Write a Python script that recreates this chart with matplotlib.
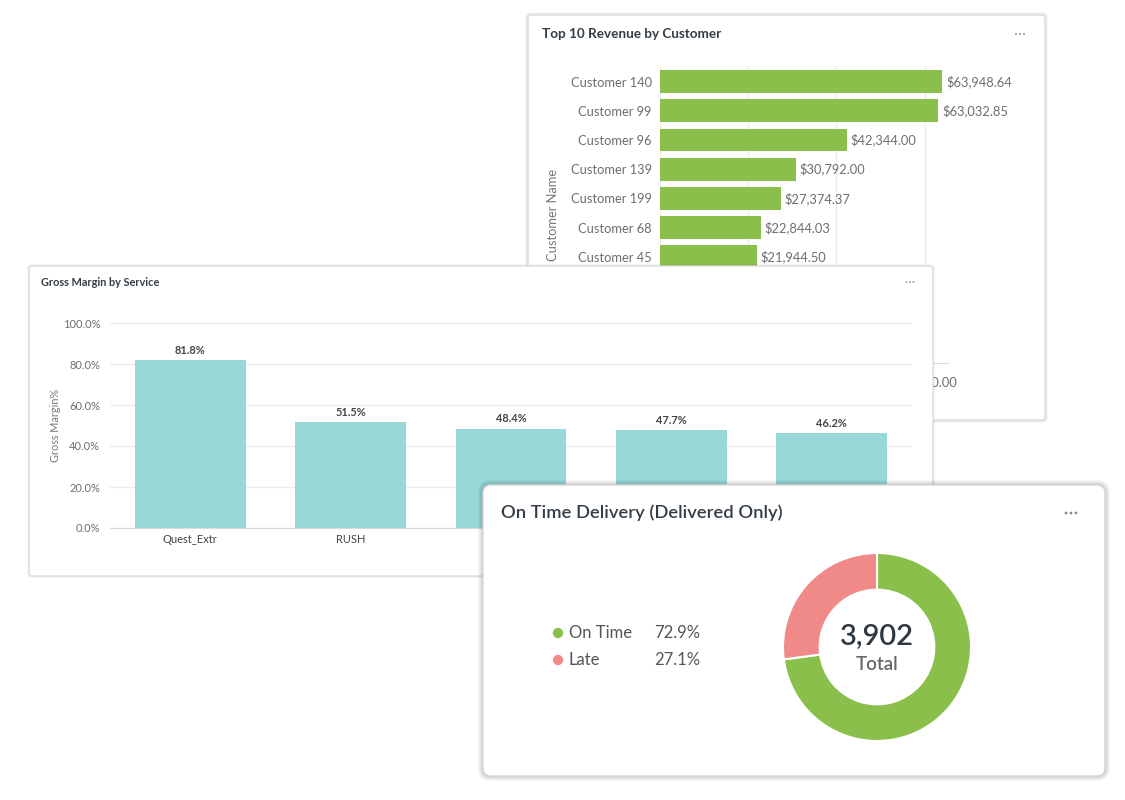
import matplotlib
matplotlib.use("Agg")
import matplotlib.pyplot as plt
from matplotlib.patches import FancyBboxPatch
from matplotlib.ticker import FuncFormatter

plt.rcParams["font.family"] = ["Lato", "DejaVu Sans"]

# ── Data ──
customers = ["Customer 140", "Customer 99", "Customer 96", "Customer 139", "Customer 199",
             "Customer 68", "Customer 45", "Customer 17", "Customer 52", "Customer 73"]
revenue = [63948.64, 63032.85, 42344.00, 30792.00, 27374.37,
           22844.03, 21944.50, 20510.00, 19875.25, 18640.00]
revenue_ticks = [0, 20000, 40000, 60000]

services = ["Quest_Extr", "RUSH", "Courier", "Standard", "Overnight"]
gross_margin = [81.8, 51.5, 48.4, 47.7, 46.2]
margin_ticks = [0, 20, 40, 60, 80, 100]

delivery_labels = ["On Time", "Late"]
delivery_share = [72.9, 27.1]
delivery_total = 3902

GREEN = "#8bbf4c"
PINK = "#ef8a88"
TEAL = "#98d9d8"
TITLE = "#343d46"
GREY = "#6e6e6e"
GRID = "#ececec"

W, H = 1125, 800
fig = plt.figure(figsize=(W / 100, H / 100), dpi=100)
fig.patch.set_facecolor("white")


def frac(x0, y0, x1, y1):
    return [x0 / W, 1 - y1 / H, (x1 - x0) / W, (y1 - y0) / H]


def card(x0, y0, x1, y1, z, radius=3, shadow=3, edge="#dcdcdc"):
    """White card drawn in pixel coordinates, returns the background axes."""
    m = 10
    ax = fig.add_axes(frac(x0 - m, y0 - m, x1 + m, y1 + m))
    ax.set_zorder(z)
    ax.set_xlim(-m, x1 - x0 + m)
    ax.set_ylim(y1 - y0 + m, -m)
    ax.axis("off")
    w, h = x1 - x0, y1 - y0
    for i in range(shadow, 0, -1):
        ax.add_patch(FancyBboxPatch((0, 0), w, h, boxstyle=f"round,pad={i},rounding_size={radius + i}",
                                    fc="#000000", ec="none", alpha=0.035))
    ax.add_patch(FancyBboxPatch((0, 0), w, h, boxstyle=f"round,pad=0,rounding_size={radius}",
                                fc="white", ec=edge, lw=1.0))
    return ax


def menu_dots(ax, x, y, gap, size, color):
    ax.scatter([x - gap, x, x + gap], [y, y, y], s=size, color=color, edgecolors="none")


# ── Card 1: Top 10 Revenue by Customer ──
bg1 = card(528, 15, 1045, 420, 1, shadow=3)
bg1.text(14, 19, "Top 10 Revenue by Customer", fontsize=9.7, fontweight="bold",
         color=TITLE, va="center", ha="left")
menu_dots(bg1, 492, 19, 4, 2.5, "#a0a0a0")

ax1 = fig.add_axes(frac(660, 67, 948, 363))
ax1.set_zorder(2)
ax1.patch.set_alpha(0)
ypos = list(range(len(customers)))
ax1.barh(ypos, revenue, height=0.78, color=GREEN, zorder=3)
ax1.set_ylim(len(customers) - 0.36, -0.5)
ax1.set_xlim(0, 65300)
ax1.set_yticks(ypos)
ax1.set_yticklabels(customers)
ax1.set_xticks(revenue_ticks)
ax1.xaxis.set_major_formatter(FuncFormatter(lambda v, _: f"${v:,.2f}"))
ax1.tick_params(axis="both", length=0, labelsize=9.3, labelcolor=GREY)
ax1.tick_params(axis="y", pad=6)
ax1.tick_params(axis="x", pad=9)
ax1.grid(axis="x", color=GRID, lw=1, zorder=0)
for s in ["top", "right", "left"]:
    ax1.spines[s].set_visible(False)
ax1.spines["bottom"].set_color("#dadada")
for y, v in zip(ypos, revenue):
    ax1.text(v + 900, y, f"${v:,.2f}", fontsize=9.3, color=GREY, va="center", ha="left")
ax1.set_ylabel("Customer Name", fontsize=9.3, color="#777777", labelpad=8)

# ── Card 2: Gross Margin by Service ──
bg2 = card(29, 266, 933, 576, 3, shadow=2)
bg2.text(12, 16, "Gross Margin by Service", fontsize=7.9, fontweight="bold",
         color=TITLE, va="center", ha="left")
menu_dots(bg2, 881, 16, 3.5, 2, "#a0a0a0")

ax2 = fig.add_axes(frac(110, 323, 912, 528))
ax2.set_zorder(4)
ax2.patch.set_alpha(0)
xpos = list(range(len(services)))
ax2.bar(xpos, gross_margin, width=0.69, color=TEAL, zorder=3)
ax2.set_xlim(-0.5, len(services) - 0.5)
ax2.set_ylim(0, 100)
ax2.set_yticks(margin_ticks)
ax2.yaxis.set_major_formatter(FuncFormatter(lambda v, _: f"{v:.1f}%"))
ax2.set_xticks(xpos)
ax2.set_xticklabels(services)
ax2.tick_params(axis="y", length=0, labelsize=8, labelcolor=GREY, pad=7)
ax2.tick_params(axis="x", length=0, labelsize=8, labelcolor="#444444", pad=4)
ax2.xaxis.get_major_ticks()[2].set_pad(20)
ax2.grid(axis="y", color=GRID, lw=1, zorder=0)
for s in ["top", "right", "left"]:
    ax2.spines[s].set_visible(False)
ax2.spines["bottom"].set_color("#dadada")
for x, v in zip(xpos, gross_margin):
    ax2.text(x, v + 2.2, f"{v:.1f}%", fontsize=7.9, fontweight="bold", color="#444444",
             ha="center", va="bottom")
ax2.set_ylabel("Gross Margin%", fontsize=7.8, color="#777777", labelpad=1)

# ── Card 3: On Time Delivery ──
bg3 = card(483, 485, 1105, 776, 5, radius=8, shadow=5, edge="#d6d6d6")
bg3.text(18, 28, "On Time Delivery (Delivered Only)", fontsize=13.2, fontweight="semibold",
         color=TITLE, va="center", ha="left")
menu_dots(bg3, 588, 28, 5, 4, "#8a8a8a")
for i, (lab, sh, col) in enumerate(zip(delivery_labels, delivery_share, [GREEN, PINK])):
    yy = 148 + i * 27
    bg3.scatter([75], [yy], s=55, color=col, edgecolors="none")
    bg3.text(86, yy, lab, fontsize=12, color="#555555", va="center", ha="left")
    bg3.text(171, yy, f"{sh:.1f}%", fontsize=12, color="#555555", va="center", ha="left")

ax3 = fig.add_axes(frac(877 - 94, 647 - 94, 877 + 94, 647 + 94))
ax3.set_zorder(6)
ax3.pie(delivery_share, colors=[GREEN, PINK], startangle=90, counterclock=False, radius=1,
        wedgeprops=dict(width=0.39, edgecolor="white", linewidth=1.5))
ax3.set_xlim(-1, 1)
ax3.set_ylim(-1, 1)
ax3.set_aspect("equal")
ax3.text(0, 0.11, f"{delivery_total:,}", fontsize=21, fontweight="semibold", color="#2f3942",
         ha="center", va="center")
ax3.text(0, -0.19, "Total", fontsize=13.5, fontweight="semibold", color="#666666",
         ha="center", va="center")

fig.savefig("out.png", dpi=100, facecolor="white")
